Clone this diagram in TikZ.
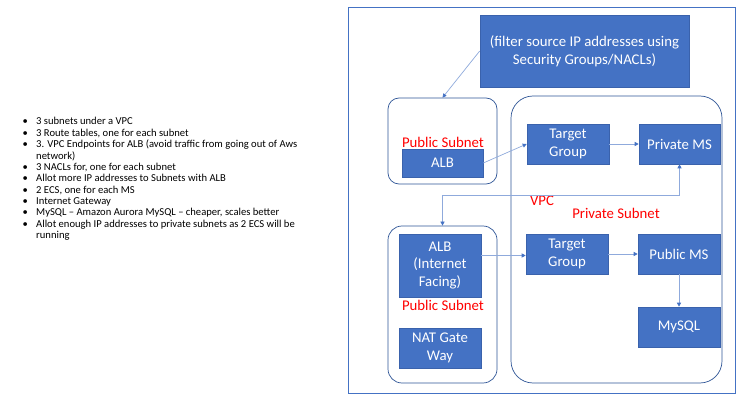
\documentclass[tikz,border=0pt]{standalone}
\usepackage{fontspec}
\setmainfont{Carlito}
\usetikzlibrary{arrows.meta}
\definecolor{boxblue}{HTML}{4472C4}
\definecolor{boxedge}{HTML}{3A62AC}
\definecolor{linkblue}{HTML}{8FAADC}
\definecolor{subedge}{HTML}{2F5597}
\definecolor{labelred}{HTML}{FF0000}
\begin{document}
\begin{tikzpicture}[x=1pt,y=-1pt,
  svc/.style={fill=boxblue,draw=boxedge,line width=0.6pt,text=white,
    font=\fontsize{14.8}{17.8}\selectfont,align=center,inner sep=0pt},
  subnet/.style={draw=subedge,line width=0.7pt,inner sep=0pt},
  redlabel/.style={text=labelred,font=\fontsize{14.8}{17.8}\selectfont,inner sep=0pt},
  link/.style={draw=linkblue,line width=0.7pt},
  tip/.style={-{Triangle[length=4pt,width=4pt,color=boxblue]}},
  bitip/.style={{Triangle[length=4pt,width=4pt,color=boxblue]}-{Triangle[length=4pt,width=4pt,color=boxblue]}}
]
\useasboundingbox[fill=white] (0,0) rectangle (740,401);

% notes
\node[anchor=base west,inner sep=0pt,font=\fontsize{10.6}{11.35}\selectfont] (notes) at (22.5,125) {%
\begin{tabular}[t]{@{}p{13.5pt}@{}l@{}}
• & 3 subnets under a VPC\\
• & 3 Route tables, one for each subnet\\
• & 3. VPC Endpoints for ALB (avoid traffic from going out of Aws\\
  & network)\\
• & 3 NACLs for, one for each subnet\\
• & Allot more IP addresses to Subnets with ALB\\
• & 2 ECS, one for each MS\\
• & Internet Gateway\\
• & MySQL – Amazon Aurora MySQL – cheaper, scales better\\
• & Allot enough IP addresses to private subnets as 2 ECS will be\\
  & running
\end{tabular}};

% containers
\node[draw=boxblue,line width=0.7pt,minimum width=387pt,minimum height=386pt,inner sep=0pt] (vpc) at (541.5,200) {};
\node[subnet,rounded corners=11pt,minimum width=109pt,minimum height=86pt] (pub1) at (442.5,141) {};
\node[subnet,rounded corners=22pt,minimum width=211pt,minimum height=287pt] (priv) at (616.5,239.5) {};
\node[subnet,rounded corners=14pt,minimum width=109pt,minimum height=157pt] (pub2) at (442.5,304.5) {};

% labels
\node[redlabel] (publab1) at (443,142) {Public Subnet};
\node[redlabel] (vpclab) at (542,201) {VPC};
\node[redlabel] (privlab) at (616,213) {Private Subnet};
\node[redlabel] (publab2) at (443,305) {Public Subnet};

% boxes
\node[svc,minimum width=209pt,minimum height=72pt] (filter) at (584.5,51) {(filter source IP addresses using\\Security Groups/NACLs)};
\node[svc,minimum width=81pt,minimum height=28pt] (alb1) at (442.5,163) {ALB};
\node[svc,minimum width=82pt,minimum height=40pt] (tg1) at (568,144) {Target\\Group};
\node[svc,minimum width=81pt,minimum height=40pt] (pms) at (679.5,144) {Private MS};
\node[svc,minimum width=82pt,minimum height=63pt] (alb2) at (440,265.5) {ALB\\(Internet\\Facing)};
\node[svc,minimum width=82pt,minimum height=40pt] (nat) at (440,348) {NAT Gate\\Way};
\node[svc,minimum width=82pt,minimum height=40pt] (tg2) at (567,254) {Target\\Group};
\node[svc,minimum width=82pt,minimum height=40pt] (pubms) at (679,254) {Public MS};
\node[svc,minimum width=82pt,minimum height=40pt] (mysql) at (679,327) {MySQL};

% connectors
\coordinate (bend) at (560,195);
\draw[link,tip] (filter.west) -- (pub1.north);
\draw[link,tip] (alb1.east) -- (tg1.west);
\draw[link,tip] (tg1.east) -- (pms.west);
\draw[link,bitip] (pms.south) -- (pms.south |- bend) -- (pub2.north |- bend) -- (pub2.north);
\draw[link,tip] ([yshift=-1.5pt]alb2.east |- tg2.west) -- ([yshift=-1.5pt]tg2.west);
\draw[link,tip] (tg2.east) -- (pubms.west);
\draw[link,tip] (pubms.south) -- (mysql.north);
\end{tikzpicture}
\end{document}
